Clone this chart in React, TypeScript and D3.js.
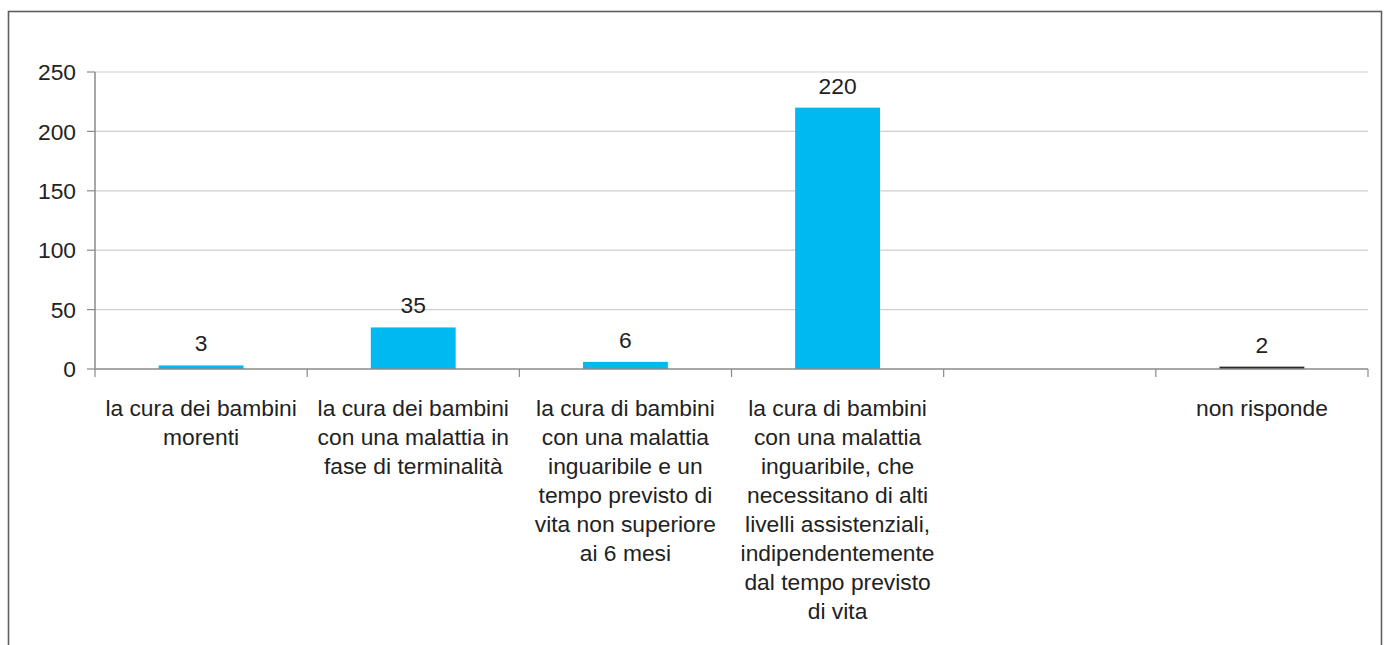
import React from "react";
import * as d3 from "d3";

// Category labels, already broken into lines as they appear under the axis
const categoryLines: string[][] = [
  ["la cura dei bambini", "morenti"],
  ["la cura dei bambini", "con una malattia in", "fase di terminalità"],
  ["la cura di bambini", "con una malattia", "inguaribile e un", "tempo previsto di", "vita non superiore", "ai 6 mesi"],
  ["la cura di bambini", "con una malattia", "inguaribile, che", "necessitano di alti", "livelli assistenziali,", "indipendentemente", "dal tempo previsto", "di vita"],
  [""],
  ["non risponde"],
];
const categoryKeys: string[] = ["c1", "c2", "c3", "c4", "c5", "c6"];
const values: (number | null)[] = [3, 35, 6, 220, null, 2];
const barColors: string[] = ["#00b9f1", "#00b9f1", "#00b9f1", "#00b9f1", "#00b9f1", "#2b2b2b"];
const yTicks: number[] = [0, 50, 100, 150, 200, 250];

const W = 1386;
const H = 645;
const left = 95;
const right = 1368;
const top = 72;
const bottom = 369;
const font = "'Liberation Sans', Arial, Helvetica, sans-serif";
const fs = 22.8;

export default function App() {
  const x = d3.scaleBand<string>().domain(categoryKeys).range([left, right]).paddingInner(0).paddingOuter(0);
  const y = d3.scaleLinear().domain([0, 250]).range([bottom, top]);
  const bw = x.bandwidth() * 0.4;
  const boundaries = d3.range(categoryKeys.length + 1).map((i) => left + i * x.step());

  return (
    <div style={{ position: "absolute", left: 0, top: 0 }}>
      <svg width={W} height={H} style={{ display: "block", background: "#fff" }} fontFamily={font}>
        <rect x={8.5} y={11.5} width={1373} height={720} fill="none" stroke="#5e5e5e" strokeWidth={1.6} />

        {/* horizontal gridlines and y-axis ticks */}
        {yTicks.map((t) => (
          <g key={t}>
            {t > 0 && <line x1={left} x2={right} y1={y(t)} y2={y(t)} stroke="#cfcfcf" strokeWidth={1.2} />}
            <line x1={left - 8} x2={left} y1={y(t)} y2={y(t)} stroke="#8a8a8a" strokeWidth={1.2} />
            <text x={76} y={y(t)} dy="0.36em" textAnchor="end" fontSize={fs} fill="#222">
              {t}
            </text>
          </g>
        ))}

        {/* bars and value labels */}
        {values.map((v, i) =>
          v == null ? null : (
            <g key={categoryKeys[i]}>
              <rect
                x={x(categoryKeys[i])! + (x.bandwidth() - bw) / 2}
                y={y(v)}
                width={bw}
                height={y(0) - y(v)}
                fill={barColors[i]}
              />
              <text
                x={x(categoryKeys[i])! + x.bandwidth() / 2}
                y={y(v) - 14}
                textAnchor="middle"
                fontSize={fs}
                fill="#222"
              >
                {v}
              </text>
            </g>
          )
        )}

        {/* axes */}
        <line x1={left} x2={left} y1={top} y2={bottom} stroke="#8a8a8a" strokeWidth={1.5} />
        <line x1={left} x2={right} y1={bottom} y2={bottom} stroke="#8a8a8a" strokeWidth={1.5} />
        {boundaries.map((b, i) => (
          <line key={i} x1={b} x2={b} y1={bottom} y2={bottom + 8} stroke="#8a8a8a" strokeWidth={1.2} />
        ))}

        {/* category labels */}
        {categoryLines.map((lines, i) => (
          <text
            key={categoryKeys[i]}
            x={x(categoryKeys[i])! + x.bandwidth() / 2}
            y={416}
            textAnchor="middle"
            fontSize={fs}
            fill="#222"
          >
            {lines.map((l, j) => (
              <tspan key={j} x={x(categoryKeys[i])! + x.bandwidth() / 2} dy={j === 0 ? 0 : 29}>
                {l}
              </tspan>
            ))}
          </text>
        ))}
      </svg>
    </div>
  );
}
